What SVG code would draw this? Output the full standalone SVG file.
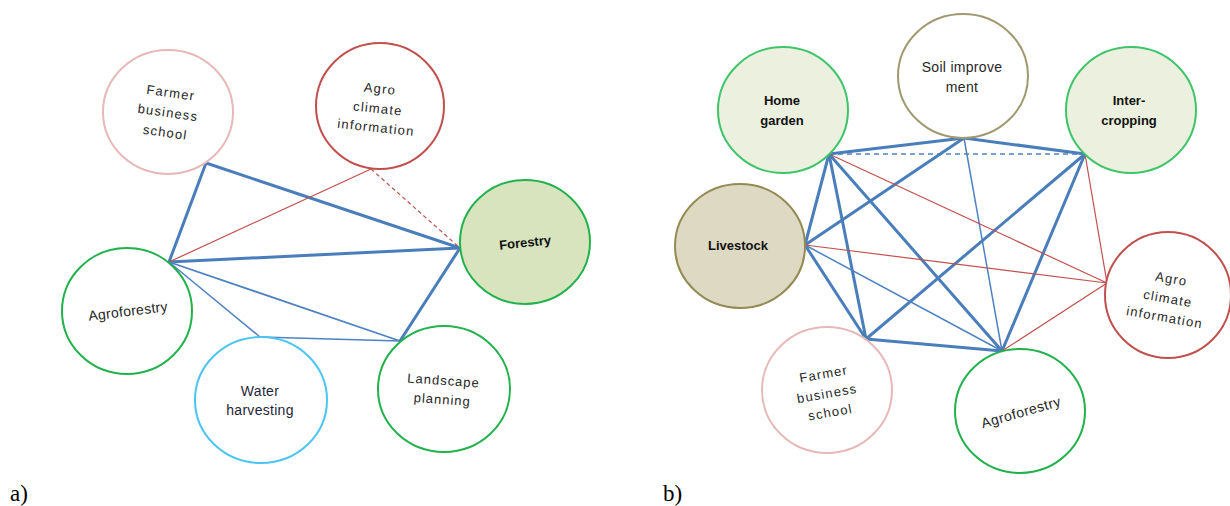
<svg xmlns="http://www.w3.org/2000/svg" width="1230" height="506" viewBox="0 0 1230 506">
  <style>
    .c { stroke-width: 2; }
    .pink { fill: #ffffff; stroke: #e6b9b8; }
    .red { fill: #ffffff; stroke: #c0504d; }
    .green { fill: #ffffff; stroke: #22b14c; }
    .lgreen { fill: #ebf1de; stroke: #3fc46a; }
    .forest { fill: #d7e4bd; stroke: #22b14c; }
    .sky { fill: #ffffff; stroke: #4cc4f2; }
    .olive { fill: #ffffff; stroke: #a09870; }
    .stock { fill: #ddd9c3; stroke: #948a54; }
    text { font-family: "Liberation Sans", Arial, sans-serif; font-size: 13px; fill: #262626; text-anchor: middle; }
    .sp { letter-spacing: 1.2px; }
    .w { font-size: 14px; letter-spacing: 0.3px; }
    .b { font-weight: bold; fill: #111111; }
    .lab { font-family: "Liberation Serif", "Times New Roman", serif; font-size: 23px; fill: #000000; text-anchor: start; }
    .bt { stroke: #4a7ebb; stroke-width: 3; fill: none; stroke-linecap: round; }
    .bn { stroke: #4f82c0; stroke-width: 1.5; fill: none; }
    .bd { stroke: #4f82c0; stroke-width: 1.5; fill: none; stroke-dasharray: 5 4; }
    .rn { stroke: #c0504d; stroke-width: 1.2; fill: none; }
    .rd { stroke: #c0504d; stroke-width: 1.2; fill: none; stroke-dasharray: 4 3; }
  </style>

  <g id="connectors">
    <!-- panel a -->
    <line class="bt" x1="206" y1="163" x2="169" y2="262"/>
    <line class="bt" x1="206" y1="163" x2="460" y2="248"/>
    <line class="bt" x1="169" y1="262" x2="460" y2="248"/>
    <line class="rn" x1="169" y1="262" x2="371" y2="169"/>
    <line class="rd" x1="371" y1="169" x2="460" y2="248"/>
    <line class="bn" x1="169" y1="262" x2="400" y2="341" style="stroke-width:1.8"/>
    <line class="bn" x1="169" y1="262" x2="260" y2="337"/>
    <line class="bn" x1="260" y1="337" x2="400" y2="341"/>
    <line class="bt" x1="460" y1="248" x2="400" y2="341"/>
    <!-- panel b -->
    <line class="bt" x1="829" y1="154" x2="964" y2="138"/>
    <line class="bt" x1="964" y1="138" x2="1085" y2="154"/>
    <line class="bd" x1="829" y1="154" x2="1085" y2="154"/>
    <line class="bt" x1="829" y1="154" x2="805" y2="245"/>
    <line class="bt" x1="829" y1="154" x2="866" y2="339"/>
    <line class="bt" x1="829" y1="154" x2="1002" y2="351"/>
    <line class="bt" x1="964" y1="138" x2="805" y2="245"/>
    <line class="bn" x1="964" y1="138" x2="1002" y2="351"/>
    <line class="bt" x1="1085" y1="154" x2="866" y2="339"/>
    <line class="bt" x1="1085" y1="154" x2="1002" y2="351"/>
    <line class="bt" x1="805" y1="245" x2="866" y2="339"/>
    <line class="bn" x1="805" y1="245" x2="1002" y2="351"/>
    <line class="bt" x1="866" y1="339" x2="1002" y2="351"/>
    <line class="rn" x1="829" y1="154" x2="1107" y2="283"/>
    <line class="rn" x1="805" y1="245" x2="1107" y2="283"/>
    <line class="rn" x1="1085" y1="154" x2="1107" y2="283"/>
    <line class="rn" x1="1002" y1="351" x2="1107" y2="283"/>
  </g>

  <!-- panel a nodes -->
  <g id="a-farmer">
    <ellipse class="c pink" cx="168" cy="112" rx="65" ry="62"/>
    <g transform="rotate(8 168 113)">
      <text class="sp" x="168" y="97">Farmer</text>
      <text class="sp" x="168" y="117">business</text>
      <text class="sp" x="168" y="137">school</text>
    </g>
  </g>
  <g id="a-agroclimate">
    <ellipse class="c red" cx="380" cy="106" rx="64" ry="63"/>
    <g transform="rotate(6 378 108)">
      <text class="sp" x="378" y="93">Agro</text>
      <text class="sp" x="378" y="113">climate</text>
      <text class="sp" x="378" y="132">information</text>
    </g>
  </g>
  <g id="a-forestry">
    <ellipse class="c forest" cx="525" cy="242" rx="65" ry="62"/>
    <text class="b" x="525" y="247" transform="rotate(-6 525 242)">Forestry</text>
  </g>
  <g id="a-agroforestry">
    <ellipse class="c green" cx="127" cy="311" rx="65" ry="63"/>
    <text class="w" x="128" y="316" transform="rotate(-7 128 311)">Agroforestry</text>
  </g>
  <g id="a-water">
    <ellipse class="c sky" cx="261" cy="400" rx="66" ry="63"/>
    <text class="w" x="260" y="396" style="fill:#1f1f3a">Water</text>
    <text class="w" x="260" y="415" style="fill:#1f1f3a">harvesting</text>
  </g>
  <g id="a-landscape">
    <ellipse class="c green" cx="444" cy="389" rx="66" ry="63"/>
    <g transform="rotate(4 443 389)">
      <text class="sp" x="443" y="385" style="letter-spacing:1px">Landscape</text>
      <text class="sp" x="443" y="404" style="letter-spacing:1px">planning</text>
    </g>
  </g>

  <!-- panel b nodes -->
  <g id="b-homegarden">
    <ellipse class="c lgreen" cx="783" cy="110" rx="65" ry="63"/>
    <text class="b" x="782" y="105">Home</text>
    <text class="b" x="782" y="125">garden</text>
  </g>
  <g id="b-soil">
    <ellipse class="c olive" cx="963" cy="76" rx="65" ry="62"/>
    <text class="w" x="962" y="72">Soil improve</text>
    <text class="w" x="962" y="92">ment</text>
  </g>
  <g id="b-intercropping">
    <ellipse class="c lgreen" cx="1131" cy="110" rx="65" ry="63"/>
    <text class="b" x="1129" y="105">Inter-</text>
    <text class="b" x="1129" y="125">cropping</text>
  </g>
  <g id="b-livestock">
    <ellipse class="c stock" cx="740" cy="246" rx="65" ry="62"/>
    <text class="b" x="738" y="250">Livestock</text>
  </g>
  <g id="b-agroclimate">
    <ellipse class="c red" cx="1168" cy="295" rx="63" ry="63"/>
    <g transform="rotate(10 1168 298)">
      <text class="sp" x="1168" y="283">Agro</text>
      <text class="sp" x="1168" y="303">climate</text>
      <text class="sp" x="1168" y="322">information</text>
    </g>
  </g>
  <g id="b-farmer">
    <ellipse class="c pink" cx="827" cy="390" rx="65" ry="63"/>
    <g transform="rotate(-10 827 393)">
      <text class="sp" x="827" y="378">Farmer</text>
      <text class="sp" x="827" y="398">business</text>
      <text class="sp" x="827" y="417">school</text>
    </g>
  </g>
  <g id="b-agroforestry">
    <ellipse class="c green" cx="1020" cy="411" rx="65" ry="62"/>
    <text class="w" x="1021" y="417" style="letter-spacing:0.5px" transform="rotate(-16 1021 412)">Agroforestry</text>
  </g>

  <text class="lab" x="10" y="501">a)</text>
  <text class="lab" x="663" y="501">b)</text>
</svg>
